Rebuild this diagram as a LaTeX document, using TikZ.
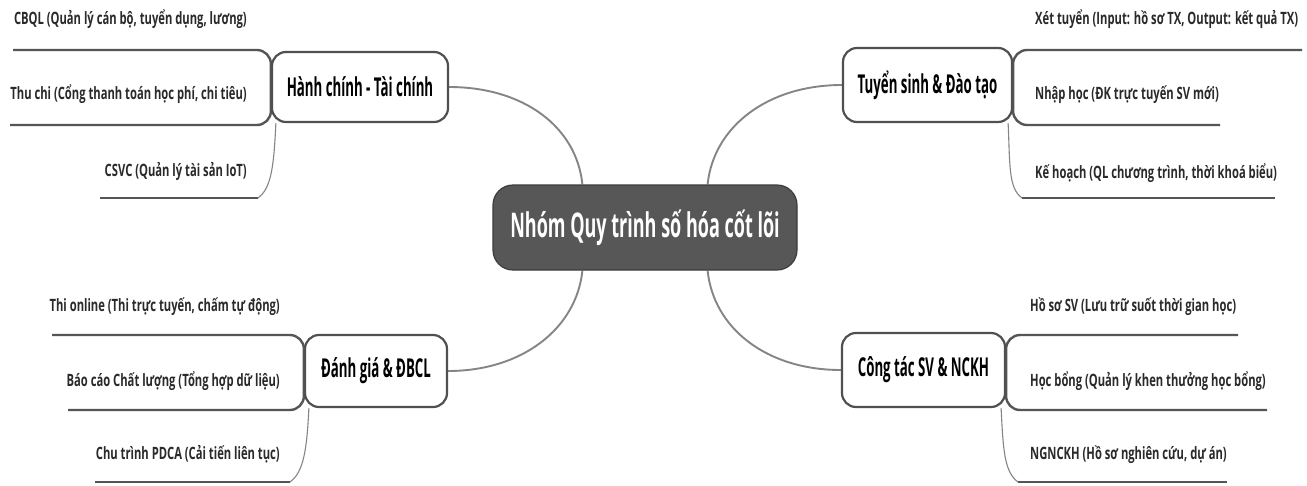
\documentclass[tikz,border=0pt]{standalone}
\usepackage{fontspec}
\newfontfamily\leaffont[FakeStretch=0.66]{Open Sans}
\newfontfamily\topicfont[FakeStretch=0.51]{Open Sans}
\newfontfamily\rootfont[FakeStretch=0.53]{Open Sans}
\usetikzlibrary{calc}
\pgfdeclarelayer{bg}
\pgfsetlayers{bg,main}
\definecolor{rootfill}{HTML}{575757}
\definecolor{rootedge}{HTML}{3C3C3C}
\definecolor{topicedge}{HTML}{505050}
\definecolor{spokecol}{HTML}{858585}
\definecolor{twigcol}{HTML}{555555}
\definecolor{leaftext}{HTML}{2A2A2A}
\tikzset{
  root/.style={draw=rootedge, line width=1.2pt, fill=rootfill, rounded corners=20pt,
    minimum width=304pt, minimum height=85pt, text=white, inner sep=0pt,
    font=\rootfont\bfseries\fontsize{34}{40}\selectfont},
  topic/.style={draw=topicedge, line width=2.2pt, fill=white, rounded corners=14pt,
    inner sep=0pt, text=black,
    font=\topicfont\bfseries\fontsize{26}{30}\selectfont},
  leaf/.style={inner sep=0pt, text=leaftext, text height=13pt, text depth=0pt,
    font=\leaffont\bfseries\fontsize{17}{20}\selectfont},
  spoke/.style={draw=spokecol, line width=1.9pt},
  twig/.style={draw=twigcol, line width=2.4pt, rounded corners=14pt},
  twigthin/.style={draw=spokecol, line width=1.1pt},
}
\begin{document}
\begin{tikzpicture}[x=1pt,y=-1pt]
\begin{pgfonlayer}{bg}
  \fill[white] (0,0) rectangle (1307,485);
\end{pgfonlayer}
\useasboundingbox (0,0) rectangle (1307,485);

% central topic and the four main branches
\node[root] (root) at (645,227.5) {Nhóm Quy trình số hóa cốt lõi};
\node[topic, minimum width=176pt, minimum height=70pt] (hc) at (360,87) {Hành chính - Tài chính};
\node[topic, minimum width=169pt, minimum height=74pt] (ts) at (927.5,85) {Tuyển sinh \& Đào tạo};
\node[topic, minimum width=142pt, minimum height=72pt] (dg) at (376,371) {Đánh giá \& ĐBCL};
\node[topic, minimum width=163pt, minimum height=74pt] (ct) at (923.5,370) {Công tác SV \& NCKH};

% sub-topics
\node[leaf, anchor=east] (hc1) at (247,18) {CBQL (Quản lý cán bộ, tuyển dụng, lương)};
\node[leaf, anchor=east] (hc2) at (247,93) {Thu chi (Cổng thanh toán học phí, chi tiêu)};
\node[leaf, anchor=east] (hc3) at (247,170) {CSVC (Quản lý tài sản IoT)};
\node[leaf, anchor=west] (ts1) at (1035,18) {Xét tuyển (Input: hồ sơ TX, Output: kết quả TX)};
\node[leaf, anchor=west] (ts2) at (1035,93) {Nhập học (ĐK trực tuyến SV mới)};
\node[leaf, anchor=west] (ts3) at (1035,172) {Kế hoạch (QL chương trình, thời khoá biểu)};
\node[leaf, anchor=east] (dg1) at (280,305) {Thi online (Thi trực tuyến, chấm tự động)};
\node[leaf, anchor=east] (dg2) at (280,380) {Báo cáo Chất lượng (Tổng hợp dữ liệu)};
\node[leaf, anchor=east] (dg3) at (280,453) {Chu trình PDCA (Cải tiến liên tục)};
\node[leaf, anchor=west] (ct1) at (1030,305) {Hồ sơ SV (Lưu trữ suốt thời gian học)};
\node[leaf, anchor=west] (ct2) at (1030,380) {Học bổng (Quản lý khen thưởng học bổng)};
\node[leaf, anchor=west] (ct3) at (1030,453) {NGNCKH (Hồ sơ nghiên cứu, dự án)};

% free ends of the underlines
\coordinate (hcu1) at (13,50);   \coordinate (hcu2) at (10,125);
\coordinate (hcu3) at (100,198); \coordinate (hcv3) at (258,198);
\coordinate (tsu1) at (1302,50); \coordinate (tsu2) at (1220,125);
\coordinate (tsu3) at (1275,198);\coordinate (tsv3) at (1022,198);
\coordinate (dgu1) at (52,335);  \coordinate (dgu2) at (68,410);
\coordinate (dgu3) at (95,482);  \coordinate (dgv3) at (290,482);
\coordinate (ctu1) at (1238,335);\coordinate (ctu2) at (1267,410);
\coordinate (ctu3) at (1227,482);\coordinate (ctv3) at (1018,482);

% attachment points on the central topic
\coordinate (r1) at ($(root.north west)+(90,0)$);
\coordinate (r2) at ($(root.north east)+(-90,0)$);
\coordinate (r3) at ($(root.south west)+(90,0)$);
\coordinate (r4) at ($(root.south east)+(-90,0)$);

\begin{pgfonlayer}{bg}
  % central topic to main branches
  \draw[spoke] (r1) .. controls +(-6,-58) and +(74,0) .. (hc.east);
  \draw[spoke] (r2) .. controls +(6,-58) and +(-74,0) .. (ts.west);
  \draw[spoke] (r3) .. controls +(-6,58) and +(74,0) .. (dg.east);
  \draw[spoke] (r4) .. controls +(6,58) and +(-74,0) .. (ct.west);

  % Hành chính - Tài chính
  \draw[twig] (hcu1) -| (hc.west);
  \draw[twig] (hcu2) -| (hc.west);
  \draw[twig] (hcu3) -- (hcv3);
  \draw[twigthin] (hcv3) .. controls +(14,-10) and +(-2,40) .. ($(hc.south west)+(5,0)$);

  % Tuyển sinh & Đào tạo
  \draw[twig] (tsu1) -| (ts.east);
  \draw[twig] (tsu2) -| (ts.east);
  \draw[twig] (tsu3) -- (tsv3);
  \draw[twigthin] (tsv3) .. controls +(-14,-10) and +(2,40) .. ($(ts.south east)+(-5,0)$);

  % Đánh giá & ĐBCL
  \draw[twig] (dgu1) -| (dg.west);
  \draw[twig] (dgu2) -| (dg.west);
  \draw[twig] (dgu3) -- (dgv3);
  \draw[twigthin] (dgv3) .. controls +(14,-10) and +(-2,40) .. ($(dg.south west)+(5,0)$);

  % Công tác SV & NCKH
  \draw[twig] (ctu1) -| (ct.east);
  \draw[twig] (ctu2) -| (ct.east);
  \draw[twig] (ctu3) -- (ctv3);
  \draw[twigthin] (ctv3) .. controls +(-14,-10) and +(2,40) .. ($(ct.south east)+(-5,0)$);
\end{pgfonlayer}
\end{tikzpicture}
\end{document}
